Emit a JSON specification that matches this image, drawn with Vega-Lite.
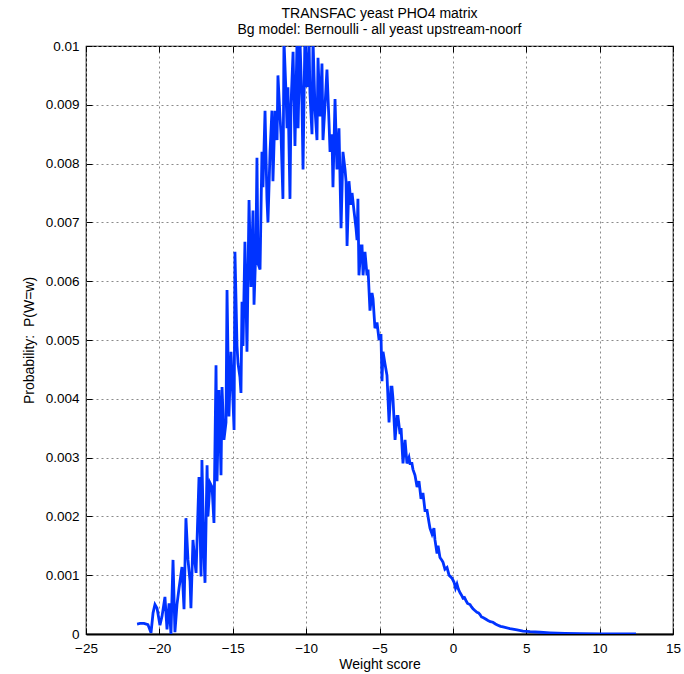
{
  "$schema": "https://vega.github.io/schema/vega-lite/v6.json",
  "autosize": {"type": "none"},
  "padding": {"left": 86, "top": 46, "right": 11, "bottom": 40},
  "width": 587,
  "height": 588,
  "background": "white",
  "config": {
    "view": {"stroke": "#000", "strokeWidth": 1.2},
    "font": "Liberation Sans",
    "axis": {
      "labelFont": "Liberation Sans",
      "titleFont": "Liberation Sans",
      "labelFontSize": 13.5,
      "titleFontSize": 14,
      "titleFontWeight": "normal",
      "labelColor": "#000",
      "titleColor": "#000",
      "tickColor": "#000",
      "domain": false,
      "gridColor": "#8a8a8a",
      "gridDash": [2, 3],
      "gridWidth": 1
    }
  },
  "title": {
    "text": ["TRANSFAC yeast PHO4 matrix", "Bg model: Bernoulli - all yeast upstream-noorf"],
    "font": "Liberation Sans",
    "fontSize": 14,
    "fontWeight": "normal",
    "color": "#000",
    "anchor": "middle",
    "lineHeight": 16,
    "offset": -3
  },
  "datasets": {
    "pdf": [
      {"w": -21.52, "p": 0.00017}, {"w": -21.32, "p": 0.00018}, {"w": -21.05, "p": 0.00018}, {"w": -20.78, "p": 0.00016},
      {"w": -20.57, "p": 0.00002}, {"w": -20.43, "p": 0.00036}, {"w": -20.30, "p": 0.0005}, {"w": -20.16, "p": 0.00044},
      {"w": -20.03, "p": 0.00025}, {"w": -19.96, "p": 0.00015}, {"w": -19.82, "p": 0.0003}, {"w": -19.62, "p": 0.00063},
      {"w": -19.48, "p": 0.00008}, {"w": -19.34, "p": 0.00052}, {"w": -19.21, "p": 0.0}, {"w": -19.07, "p": 0.00126},
      {"w": -18.94, "p": 0.00003}, {"w": -18.80, "p": 0.0005}, {"w": -18.66, "p": 0.00078}, {"w": -18.46, "p": 0.00114},
      {"w": -18.32, "p": 0.00042}, {"w": -18.19, "p": 0.00197}, {"w": -18.05, "p": 0.00126}, {"w": -17.91, "p": 0.0009},
      {"w": -17.85, "p": 0.00044}, {"w": -17.71, "p": 0.0016}, {"w": -17.57, "p": 0.0012}, {"w": -17.50, "p": 0.00104},
      {"w": -17.30, "p": 0.00267}, {"w": -17.16, "p": 0.00098}, {"w": -17.10, "p": 0.00296}, {"w": -16.96, "p": 0.0013},
      {"w": -16.89, "p": 0.00087}, {"w": -16.75, "p": 0.00287}, {"w": -16.69, "p": 0.002}, {"w": -16.55, "p": 0.00257},
      {"w": -16.41, "p": 0.0025}, {"w": -16.28, "p": 0.00189}, {"w": -16.14, "p": 0.00457}, {"w": -16.07, "p": 0.0026},
      {"w": -15.94, "p": 0.00415}, {"w": -15.80, "p": 0.0027}, {"w": -15.73, "p": 0.0042}, {"w": -15.60, "p": 0.0033},
      {"w": -15.46, "p": 0.0036}, {"w": -15.39, "p": 0.00585}, {"w": -15.26, "p": 0.0037}, {"w": -15.12, "p": 0.0048},
      {"w": -15.05, "p": 0.0044}, {"w": -14.91, "p": 0.00347}, {"w": -14.85, "p": 0.0065}, {"w": -14.71, "p": 0.0049},
      {"w": -14.64, "p": 0.0046}, {"w": -14.51, "p": 0.00437}, {"w": -14.44, "p": 0.0041}, {"w": -14.37, "p": 0.00565},
      {"w": -14.30, "p": 0.0049}, {"w": -14.17, "p": 0.00667}, {"w": -14.03, "p": 0.0048}, {"w": -13.89, "p": 0.00738},
      {"w": -13.76, "p": 0.0059}, {"w": -13.62, "p": 0.0072}, {"w": -13.55, "p": 0.0056}, {"w": -13.42, "p": 0.0066},
      {"w": -13.35, "p": 0.0081}, {"w": -13.28, "p": 0.0063}, {"w": -13.14, "p": 0.0062}, {"w": -13.01, "p": 0.0082},
      {"w": -12.94, "p": 0.0076}, {"w": -12.80, "p": 0.0089}, {"w": -12.67, "p": 0.0074}, {"w": -12.60, "p": 0.007},
      {"w": -12.46, "p": 0.0082}, {"w": -12.33, "p": 0.0089}, {"w": -12.26, "p": 0.0077}, {"w": -12.12, "p": 0.0089},
      {"w": -11.98, "p": 0.0084}, {"w": -11.92, "p": 0.0095}, {"w": -11.78, "p": 0.0088}, {"w": -11.71, "p": 0.0085},
      {"w": -11.58, "p": 0.0074}, {"w": -11.51, "p": 0.0101}, {"w": -11.37, "p": 0.0092}, {"w": -11.30, "p": 0.0086},
      {"w": -11.24, "p": 0.0093}, {"w": -11.10, "p": 0.0074}, {"w": -11.03, "p": 0.009}, {"w": -10.89, "p": 0.0099},
      {"w": -10.76, "p": 0.0083}, {"w": -10.62, "p": 0.0101}, {"w": -10.55, "p": 0.0086}, {"w": -10.42, "p": 0.0101},
      {"w": -10.28, "p": 0.009}, {"w": -10.21, "p": 0.0079}, {"w": -10.08, "p": 0.0102}, {"w": -9.94, "p": 0.0093},
      {"w": -9.80, "p": 0.0101}, {"w": -9.74, "p": 0.0092}, {"w": -9.60, "p": 0.0085}, {"w": -9.53, "p": 0.0101},
      {"w": -9.39, "p": 0.0089}, {"w": -9.26, "p": 0.0084}, {"w": -9.19, "p": 0.0098}, {"w": -9.05, "p": 0.0088},
      {"w": -8.92, "p": 0.0097}, {"w": -8.85, "p": 0.0084}, {"w": -8.71, "p": 0.009}, {"w": -8.58, "p": 0.0096},
      {"w": -8.44, "p": 0.0087}, {"w": -8.37, "p": 0.0082}, {"w": -8.24, "p": 0.0085}, {"w": -8.17, "p": 0.0076},
      {"w": -8.03, "p": 0.0091}, {"w": -7.90, "p": 0.0079}, {"w": -7.76, "p": 0.0086}, {"w": -7.62, "p": 0.0069},
      {"w": -7.49, "p": 0.0082}, {"w": -7.35, "p": 0.0079}, {"w": -7.28, "p": 0.0077}, {"w": -7.21, "p": 0.0066},
      {"w": -7.08, "p": 0.0077}, {"w": -6.94, "p": 0.0073}, {"w": -6.87, "p": 0.0075}, {"w": -6.74, "p": 0.0072},
      {"w": -6.60, "p": 0.0069}, {"w": -6.53, "p": 0.0067}, {"w": -6.47, "p": 0.0074}, {"w": -6.40, "p": 0.0061},
      {"w": -6.26, "p": 0.0066}, {"w": -6.19, "p": 0.0066}, {"w": -6.12, "p": 0.0061}, {"w": -5.99, "p": 0.0065},
      {"w": -5.85, "p": 0.0061}, {"w": -5.78, "p": 0.0062}, {"w": -5.65, "p": 0.0055}, {"w": -5.51, "p": 0.0058},
      {"w": -5.44, "p": 0.0057}, {"w": -5.31, "p": 0.0052}, {"w": -5.17, "p": 0.0053}, {"w": -5.03, "p": 0.005},
      {"w": -4.90, "p": 0.0051}, {"w": -4.83, "p": 0.0043}, {"w": -4.76, "p": 0.0048}, {"w": -4.63, "p": 0.0046},
      {"w": -4.49, "p": 0.0044}, {"w": -4.35, "p": 0.0036}, {"w": -4.22, "p": 0.0042}, {"w": -4.15, "p": 0.0042},
      {"w": -4.08, "p": 0.004}, {"w": -3.94, "p": 0.0033}, {"w": -3.81, "p": 0.0037}, {"w": -3.74, "p": 0.0037},
      {"w": -3.60, "p": 0.0034}, {"w": -3.53, "p": 0.0035}, {"w": -3.40, "p": 0.0029}, {"w": -3.26, "p": 0.0033},
      {"w": -3.13, "p": 0.0029}, {"w": -2.99, "p": 0.003}, {"w": -2.92, "p": 0.0029}, {"w": -2.79, "p": 0.0029},
      {"w": -2.72, "p": 0.0028}, {"w": -2.58, "p": 0.0027}, {"w": -2.44, "p": 0.0025}, {"w": -2.31, "p": 0.0026},
      {"w": -2.17, "p": 0.0023}, {"w": -2.04, "p": 0.0024}, {"w": -1.90, "p": 0.0021}, {"w": -1.76, "p": 0.0021},
      {"w": -1.63, "p": 0.0019}, {"w": -1.56, "p": 0.0018}, {"w": -1.42, "p": 0.0017}, {"w": -1.29, "p": 0.0018},
      {"w": -1.22, "p": 0.0016}, {"w": -1.08, "p": 0.00137}, {"w": -1.01, "p": 0.0015}, {"w": -0.88, "p": 0.0013},
      {"w": -0.74, "p": 0.00125}, {"w": -0.67, "p": 0.00122}, {"w": -0.54, "p": 0.0011}, {"w": -0.40, "p": 0.00113},
      {"w": -0.26, "p": 0.001}, {"w": -0.06, "p": 0.00095}, {"w": 0.08, "p": 0.00088}, {"w": 0.18, "p": 0.00078},
      {"w": 0.28, "p": 0.00085}, {"w": 0.38, "p": 0.00076}, {"w": 0.49, "p": 0.0007}, {"w": 0.59, "p": 0.00066},
      {"w": 0.69, "p": 0.00061}, {"w": 0.79, "p": 0.00062}, {"w": 0.89, "p": 0.00057}, {"w": 1.0, "p": 0.00052},
      {"w": 1.17, "p": 0.0005}, {"w": 1.27, "p": 0.00046}, {"w": 1.37, "p": 0.00043}, {"w": 1.5, "p": 0.0004},
      {"w": 1.64, "p": 0.00037}, {"w": 1.75, "p": 0.00036}, {"w": 1.85, "p": 0.00033}, {"w": 1.95, "p": 0.00029},
      {"w": 2.05, "p": 0.00028}, {"w": 2.2, "p": 0.00026}, {"w": 2.39, "p": 0.00023}, {"w": 2.55, "p": 0.00021},
      {"w": 2.73, "p": 0.0002}, {"w": 2.9, "p": 0.00017}, {"w": 3.07, "p": 0.00015}, {"w": 3.25, "p": 0.00013},
      {"w": 3.42, "p": 0.00012}, {"w": 3.89, "p": 0.00009}, {"w": 4.37, "p": 0.00007}, {"w": 4.78, "p": 0.00005},
      {"w": 5.26, "p": 0.00004}, {"w": 5.94, "p": 0.00003}, {"w": 6.62, "p": 0.00002}, {"w": 7.64, "p": 0.00001},
      {"w": 8.66, "p": 0.000005}, {"w": 10.03, "p": 0.000002}, {"w": 11.39, "p": 0.000001}, {"w": 12.48, "p": 0.0000005}
    ]
  },
  "data": {"name": "pdf"},
  "resolve": {"axis": {"x": "independent", "y": "independent"}},
  "layer": [
    {
      "mark": {"type": "line", "color": "#0033ff", "strokeWidth": 2.8, "clip": true, "strokeJoin": "miter"},
      "encoding": {
        "x": {
          "field": "w", "type": "quantitative",
          "scale": {"domain": [-25, 15], "nice": false, "zero": false},
          "axis": {"orient": "bottom", "values": [-25, -20, -15, -10, -5, 0, 5, 10, 15], "title": "Weight score",
                   "grid": true, "tickSize": -6, "labelPadding": 13, "titlePadding": 3, "labelFlush": false,
                   "domain": true, "domainColor": "#000", "domainWidth": 1.8}
        },
        "y": {
          "field": "p", "type": "quantitative",
          "scale": {"domain": [0, 0.01], "nice": false},
          "axis": {"orient": "left", "values": [0, 0.001, 0.002, 0.003, 0.004, 0.005, 0.006, 0.007, 0.008, 0.009, 0.01],
                   "format": "~g", "title": "Probability:\u00a0 P(W=w)", "grid": true, "tickSize": -6, "labelPadding": 13,
                   "titlePadding": 9, "labelFlush": false}
        }
      }
    },
    {
      "mark": {"type": "line", "opacity": 0},
      "encoding": {
        "x": {
          "field": "w", "type": "quantitative",
          "axis": {"orient": "top", "values": [-25, -20, -15, -10, -5, 0, 5, 10, 15], "title": null, "labels": false,
                   "grid": false, "tickSize": -6}
        },
        "y": {
          "field": "p", "type": "quantitative",
          "axis": {"orient": "right", "values": [0, 0.001, 0.002, 0.003, 0.004, 0.005, 0.006, 0.007, 0.008, 0.009, 0.01],
                   "title": null, "labels": false, "grid": false, "tickSize": -6}
        }
      }
    }
  ]
}
